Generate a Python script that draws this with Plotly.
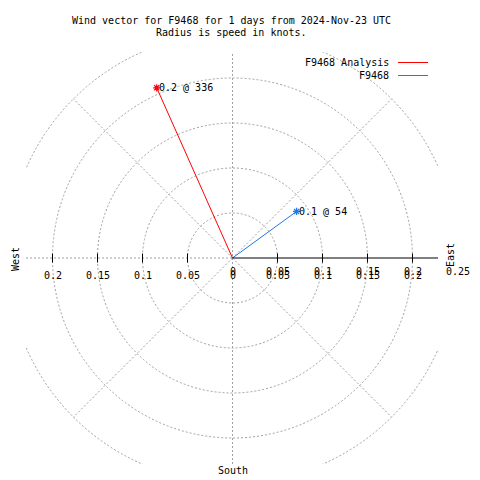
import numpy as np
import plotly.graph_objects as go

# ---- data ----
series_names = ["F9468 Analysis", "F9468"]
speeds = [0.207, 0.088]          # knots
directions = [336, 54]           # degrees (from north, clockwise)
point_labels = ["0.2 @ 336", "0.1 @ 54"]
series_colors = ["#ff0000", "#1e78e6"]

grid_radii = [0.05, 0.1, 0.15, 0.2, 0.25]
grid_angles = [45, 135, 225, 315]
x_tick_vals = [-0.2, -0.15, -0.1, -0.05, 0, 0.05, 0.1, 0.15, 0.2]
x_tick_text = ["0.2", "0.15", "0.1", "0.05", "0", "0.05", "0.1", "0.15", "0.2"]
r_tick_vals = [0, 0.05, 0.1, 0.15, 0.2, 0.25]
r_tick_text = ["0", "0.05", "0.1", "0.15", "0.2", "0.25"]
tick_marks = [-0.2, -0.15, -0.1, -0.05, 0.05, 0.1, 0.15, 0.2]

title_lines = ["Wind vector for F9468 for 1 days from 2024-Nov-23 UTC",
               "Radius is speed in knots."]

# ---- layout geometry ----
W = H = 480
ML, MR, MT, MB = 26, 42, 52, 16
PW, PH = W - ML - MR, H - MT - MB
CX, CY = 232.5, 258.0          # pixel of origin
SCALE = 900.0                  # px per knot
xr = [-(CX - ML) / SCALE, (W - MR - CX) / SCALE]
yr = [-(H - MB - CY) / SCALE, (CY - MT) / SCALE]

def px(x):
    return (x - ML) / PW

def py(y):
    return (H - MB - y) / PH

FONT = dict(family="DejaVu Sans Mono, Liberation Mono, monospace", size=10, color="black")
GRID = dict(color="#a0a0a0", width=1, dash="2px,2px")

fig = go.Figure()
shapes = []
annotations = []

# grid circles
for r in grid_radii:
    shapes.append(dict(type="circle", xref="x", yref="y", x0=-r, x1=r, y0=-r, y1=r,
                       line=GRID, layer="below"))
# diagonal grid lines
for a in grid_angles:
    t = np.deg2rad(a)
    shapes.append(dict(type="line", xref="x", yref="y", x0=0, y0=0,
                       x1=grid_radii[-1] * np.cos(t), y1=grid_radii[-1] * np.sin(t),
                       line=GRID, layer="below"))
# vertical dashed line, left horizontal dashed line
shapes.append(dict(type="line", xref="x", yref="y", x0=0, x1=0, y0=yr[0], y1=yr[1],
                   line=GRID, layer="below"))
shapes.append(dict(type="line", xref="x", yref="y", x0=xr[0], x1=0, y0=0, y1=0,
                   line=GRID, layer="below"))
# right solid axis
shapes.append(dict(type="line", xref="x", yref="y", x0=0, x1=xr[1], y0=0, y1=0,
                   line=dict(color="black", width=1)))
# tick marks
tl = 4.5 / SCALE
for v in tick_marks:
    shapes.append(dict(type="line", xref="x", yref="y", x0=v, x1=v, y0=-tl, y1=tl,
                       line=dict(color="black", width=1)))

# vectors
for name, s, d, lab, col in zip(series_names, speeds, directions, point_labels, series_colors):
    t = np.deg2rad(d)
    ex, ey = s * np.sin(t), s * np.cos(t)
    fig.add_trace(go.Scatter(x=[0, ex], y=[0, ey], mode="lines",
                             line=dict(color=col, width=1), showlegend=False, hoverinfo="skip"))
    fig.add_trace(go.Scatter(x=[ex], y=[ey], mode="markers",
                             marker=dict(symbol="asterisk-open", size=6, color=col,
                                         line=dict(color=col, width=1.2)),
                             showlegend=False, hoverinfo="skip", cliponaxis=False))
    annotations.append(dict(x=ex, y=ey, xref="x", yref="y", text=lab, showarrow=False,
                            xanchor="left", yanchor="middle", xshift=0, font=FONT))

# tick labels (annotations outside the axis range get clamped + shifted)
def tick_ann(v, t, yshift):
    xv = min(max(v, xr[0]), xr[1])
    return dict(x=xv, y=0, xref="x", yref="y", text=t, showarrow=False,
                xanchor="center", yanchor="middle", yshift=yshift,
                xshift=(v - xv) * SCALE, font=FONT)

for v, t in zip(x_tick_vals, x_tick_text):
    annotations.append(tick_ann(v, t, -17))
for v, t in zip(r_tick_vals, r_tick_text):
    annotations.append(tick_ann(v, t, -13))

def paper_ann(x, y, text, **kw):
    d = dict(x=px(x), y=py(y), xref="paper", yref="paper", text=text, showarrow=False,
             xanchor="center", yanchor="middle", font=FONT)
    d.update(kw)
    return d

# compass labels
annotations.append(paper_ann(15, 259, "West", textangle=-90))
annotations.append(paper_ann(450, 255, "East", textangle=-90))
annotations.append(paper_ann(233, 470, "South"))

# title
for i, line in enumerate(title_lines):
    annotations.append(paper_ann(231.5, 20 + 13 * i, line))

# legend (manual, gnuplot style)
for i, (name, col) in enumerate(zip(series_names, series_colors)):
    yy = 62.5 + 13 * i
    annotations.append(paper_ann(391, yy + 0.5, name, xanchor="right"))
    shapes.append(dict(type="line", xref="paper", yref="paper", x0=px(398), x1=px(428),
                       y0=py(yy), y1=py(yy), line=dict(color=col, width=1)))

fig.update_layout(
    width=W, height=H,
    margin=dict(l=ML, r=MR, t=MT, b=MB, pad=0),
    paper_bgcolor="white", plot_bgcolor="white",
    xaxis=dict(range=xr, visible=False, showgrid=False, zeroline=False, fixedrange=True),
    yaxis=dict(range=yr, visible=False, showgrid=False, zeroline=False, fixedrange=True),
    shapes=shapes, annotations=annotations, showlegend=False,
)

fig.write_html("out.html", config={"displayModeBar": False},
               post_script="document.body.style.margin='0';")
